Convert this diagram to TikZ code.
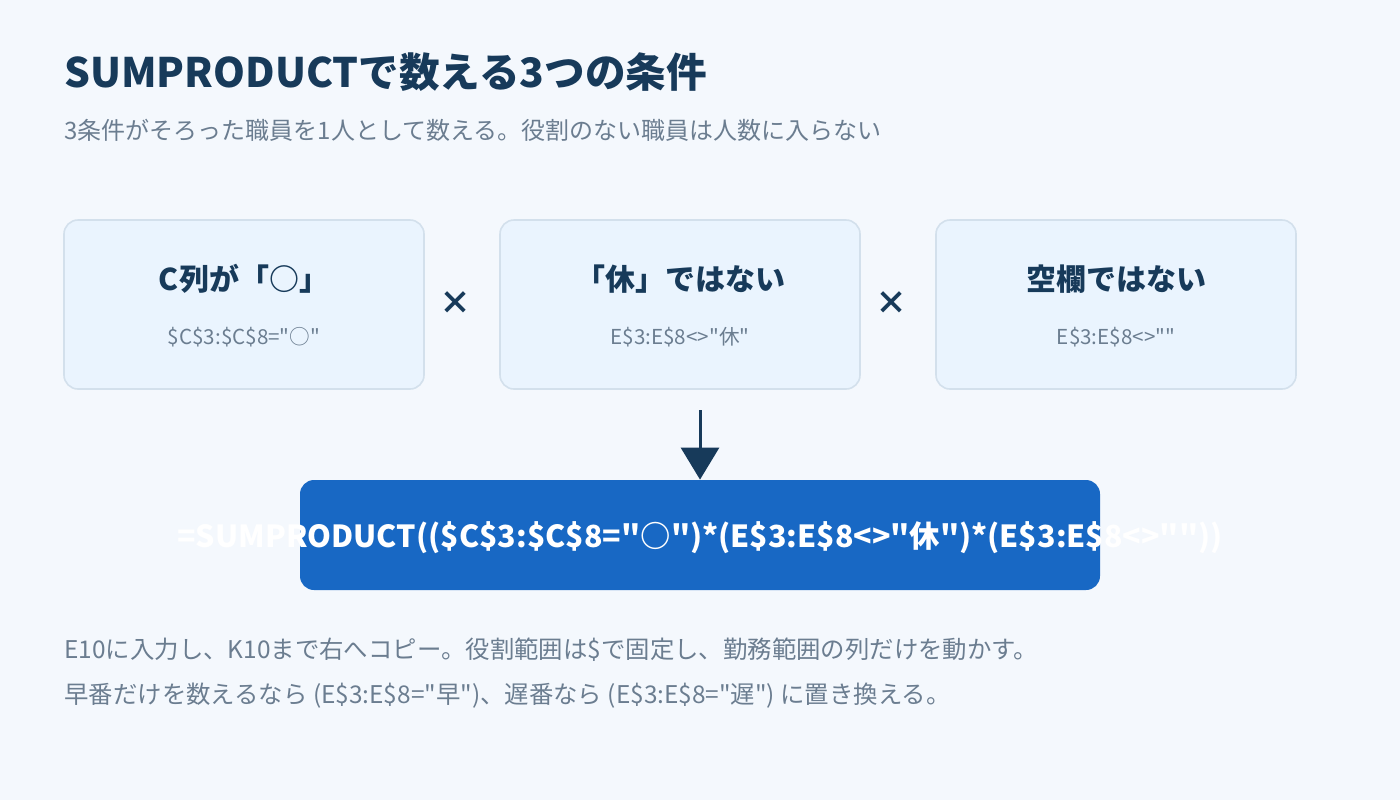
\documentclass[tikz,border=0pt]{standalone}
\usepackage{fontspec}
\setmainfont{Noto Sans CJK JP}
\newfontfamily\jpfont{Noto Sans CJK JP}
\usetikzlibrary{arrows.meta}
\definecolor{bgcol}{HTML}{F4F8FD}
\definecolor{boxfill}{HTML}{EAF4FE}
\definecolor{boxline}{HTML}{D3E0EC}
\definecolor{navy}{HTML}{173A5A}
\definecolor{greytext}{HTML}{6B7D90}
\definecolor{formblue}{HTML}{1868C4}
\tikzset{
  cond/.style={rectangle, rounded corners=7pt, draw=boxline, line width=0.8pt, fill=boxfill, minimum width=180pt, minimum height=84.5pt},
  condtitle/.style={text=navy, font=\jpfont\fontsize{15}{17}\selectfont\bfseries},
  condcode/.style={text=greytext, font=\jpfont\fontsize{10.3}{12}\selectfont},
  times/.style={text=navy, font=\jpfont\fontsize{16}{18}\selectfont\bfseries},
  note/.style={text=greytext, anchor=west, font=\jpfont\fontsize{12.2}{14}\selectfont},
  arrow/.style={draw=navy, line width=1.5pt, -{Triangle[length=16pt,width=19pt]}}
}
\begin{document}
\jpfont
\begin{tikzpicture}[x=0.5pt,y=-0.5pt]
  \fill[bgcol] (0,0) rectangle (1400,800);
  \useasboundingbox (0,0) rectangle (1400,800);

  \node (title)    [anchor=west, inner sep=0pt, text=navy, font=\jpfont\fontsize{20.3}{22}\selectfont\bfseries] at (64,72) {SUMPRODUCTで数える3つの条件};
  \node (subtitle) [note, inner sep=0pt, font=\jpfont\fontsize{12}{14}\selectfont] at (64,130) {3条件がそろった職員を1人として数える。役割のない職員は人数に入らない};

  \node (cond-c) [cond] at (244,304.5) {};
  \node (cond-e) [cond] at (680,304.5) {};
  \node (cond-b) [cond] at (1116,304.5) {};
  \node [condtitle] at (244,279) {C列が「○」};
  \node [condcode]  at (244,337) {\$C\$3:\$C\$8="○"};
  \node [condtitle] at (680,279) {「休」ではない};
  \node [condcode]  at (680,337) {E\$3:E\$8<>"休"};
  \node [condtitle] at (1116,279) {空欄ではない};
  \node [condcode]  at (1116,337) {E\$3:E\$8<>""};

  \node (times-a) [times] at (455,303) {×};
  \node (times-b) [times] at (891,303) {×};

  \coordinate (arrow-top) at (700,410);
  \node (formula) [rectangle, rounded corners=7pt, fill=formblue, minimum width=400pt, minimum height=55pt] at (700,535) {};
  \node (formula-text) [text=white, font=\jpfont\fontsize{15.2}{17}\selectfont\bfseries] at (700,538)
    {=SUMPRODUCT((\$C\$3:\$C\$8="○")*(E\$3:E\$8<>"休")*(E\$3:E\$8<>""))};
  \draw [arrow] (arrow-top) -- (formula.north);

  \node (note-a) [note, inner sep=0pt] at (64,650) {E10に入力し、K10まで右へコピー。役割範囲は\$で固定し、勤務範囲の列だけを動かす。};
  \node (note-b) [note, inner sep=0pt] at (64,696) {早番だけを数えるなら (E\$3:E\$8="早")、遅番なら (E\$3:E\$8="遅") に置き換える。};
\end{tikzpicture}
\end{document}
